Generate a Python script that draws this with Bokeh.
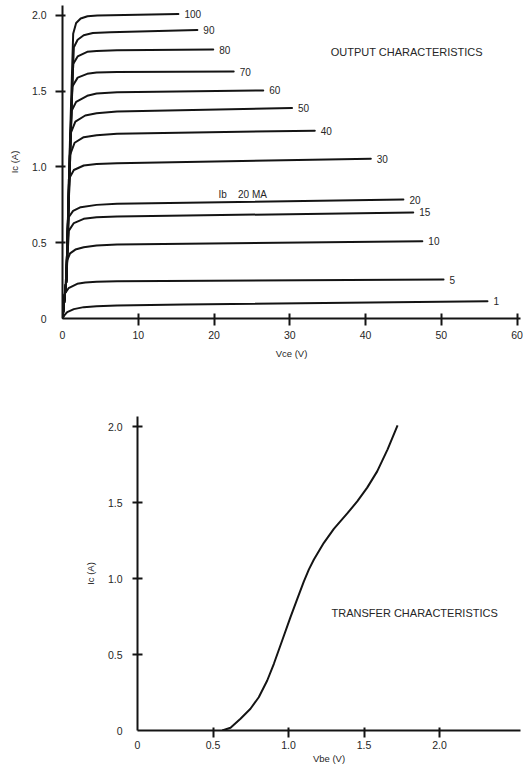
from bokeh.plotting import figure
from bokeh.models import Range1d, FixedTicker, Label, CustomJSTickFormatter
from bokeh.embed import file_html
from bokeh.resources import INLINE
from bokeh.core.properties import value

# ---------------- data: output characteristics ----------------
ib_labels = ["100", "90", "80", "70", "60", "50", "40", "30", "20", "15", "10", "5", "1"]

vce_points = [
    [0, 0.5, 1.0, 1.41, 1.8, 2.4, 3.3, 4.6, 15.3],
    [0, 0.5, 1.0, 1.5, 2.0, 2.8, 4.0, 6.3, 17.8],
    [0, 0.5, 1.0, 1.41, 2.0, 3.26, 4.5, 7.2, 19.9],
    [0, 0.5, 1.0, 1.28, 2.0, 3.26, 4.5, 7.2, 22.6],
    [0, 0.5, 0.95, 1.19, 1.8, 3.26, 4.5, 7.2, 26.5],
    [0, 0.5, 0.85, 1.06, 1.7, 3.0, 4.5, 7.2, 30.3],
    [0, 0.5, 0.8, 0.97, 1.6, 2.8, 4.5, 7.2, 33.3],
    [0, 0.5, 0.75, 0.84, 1.5, 2.8, 4.5, 7.2, 40.7],
    [0, 0.5, 0.7, 0.84, 1.4, 2.4, 4.5, 7.2, 45.0],
    [0, 0.5, 0.7, 0.84, 1.5, 2.8, 4.5, 7.2, 46.3],
    [0, 0.4, 0.62, 1.0, 1.7, 2.8, 4.5, 7.2, 47.5],
    [0, 0.15, 0.3, 0.8, 1.94, 3.0, 4.5, 7.2, 50.3],
    [0, 0.3, 0.62, 1.5, 2.8, 4.5, 7.2, 16.0, 56.1],
]
ic_points = [
    [0, 0.25, 1.20, 1.88, 1.95, 1.98, 1.995, 2.00, 2.01],
    [0, 0.25, 1.15, 1.79, 1.84, 1.87, 1.885, 1.89, 1.905],
    [0, 0.25, 1.10, 1.68, 1.73, 1.76, 1.765, 1.77, 1.775],
    [0, 0.25, 1.05, 1.53, 1.59, 1.615, 1.623, 1.627, 1.63],
    [0, 0.25, 0.95, 1.37, 1.43, 1.47, 1.485, 1.494, 1.505],
    [0, 0.25, 0.85, 1.22, 1.30, 1.34, 1.355, 1.366, 1.39],
    [0, 0.25, 0.80, 1.076, 1.16, 1.197, 1.21, 1.22, 1.24],
    [0, 0.25, 0.70, 0.92, 0.98, 1.01, 1.02, 1.025, 1.054],
    [0, 0.25, 0.50, 0.67, 0.71, 0.735, 0.75, 0.757, 0.785],
    [0, 0.25, 0.45, 0.58, 0.63, 0.658, 0.668, 0.673, 0.70],
    [0, 0.22, 0.383, 0.43, 0.455, 0.47, 0.482, 0.488, 0.51],
    [0, 0.09, 0.163, 0.20, 0.229, 0.238, 0.243, 0.246, 0.257],
    [0, 0.025, 0.042, 0.062, 0.075, 0.081, 0.086, 0.092, 0.114],
]
vce_label_ticks = [0, 10, 20, 30, 40, 50, 60]
vce_mark_ticks = [10, 20, 30, 40, 50, 60]
ic_label_ticks = [0, 0.5, 1.0, 1.5, 2.0]
ic_mark_ticks = [0.5, 1.0, 1.5, 2.0]

# ---------------- data: transfer characteristic ----------------
vbe_points = [0.561, 0.616, 0.682, 0.748, 0.803, 0.859, 0.903, 0.958, 1.013, 1.058, 1.101,
              1.135, 1.168, 1.234, 1.300, 1.389, 1.455, 1.521, 1.587, 1.656, 1.722]
ic_transfer = [0.0, 0.018, 0.077, 0.143, 0.219, 0.329, 0.439, 0.592, 0.746, 0.866, 0.980,
               1.060, 1.125, 1.235, 1.327, 1.428, 1.508, 1.598, 1.705, 1.850, 2.007]
vbe_label_ticks = [0, 0.5, 1.0, 1.5, 2.0]
vbe_mark_ticks = [0.5, 1.0, 1.5, 2.0]

FONT = "Liberation Sans"
INK = "#141414"
TXT = "#262626"

fmt_one_decimal = "return tick == 0 ? '0' : tick.toFixed(1);"


def style_axis(ax, tick_in, tick_out, standoff, label_standoff):
    ax.axis_line_width = 2
    ax.axis_line_color = INK
    ax.major_tick_line_color = None
    ax.major_tick_in = 0
    ax.major_tick_out = tick_out
    ax.minor_tick_line_color = INK
    ax.minor_tick_line_width = 2
    ax.minor_tick_in = tick_in
    ax.minor_tick_out = tick_out
    ax.major_label_text_font = FONT
    ax.major_label_text_font_size = "10.5px"
    ax.major_label_text_color = TXT
    ax.major_label_standoff = standoff
    ax.axis_label_text_font = FONT
    ax.axis_label_text_font_size = "9.5px"
    ax.axis_label_text_font_style = "normal"
    ax.axis_label_text_color = TXT
    ax.axis_label_standoff = label_standoff


# ---------------- top figure ----------------
p1 = figure(width=523, height=363, x_range=Range1d(0, 60.46), y_range=Range1d(0, 2.066),
            output_backend="svg", toolbar_location=None,
            min_border_left=62, min_border_right=3, min_border_top=5, min_border_bottom=45)
p1.outline_line_color = None
p1.grid.visible = False
p1.xaxis.ticker = FixedTicker(ticks=vce_label_ticks, minor_ticks=vce_mark_ticks)
p1.yaxis.ticker = FixedTicker(ticks=ic_label_ticks, minor_ticks=ic_mark_ticks)
p1.yaxis.formatter = CustomJSTickFormatter(code=fmt_one_decimal)
p1.xaxis.axis_label = "Vce (V)"
p1.yaxis.axis_label = "Ic (A)"
style_axis(p1.xaxis[0], 5, 7, 5, 6)
style_axis(p1.yaxis[0], 3, 7, 9, 9)

p1.multi_line(xs=vce_points, ys=ic_points, line_color=INK, line_width=2,
              line_join="round", line_cap="round")
end_v = [v[-1] for v in vce_points]
end_i = [i[-1] for i in ic_points]
p1.text(x=end_v, y=end_i, text=ib_labels, x_offset=6, text_baseline="middle",
        text_align="left", text_font=value(FONT), text_font_size="10px", text_color=TXT)

p1.add_layout(Label(x=35.4, y=1.756, text="OUTPUT CHARACTERISTICS", text_align="left",
                    text_baseline="middle", text_font=FONT, text_font_size="11px",
                    text_color=TXT))
p1.add_layout(Label(x=20.6, y=0.818, text="Ib\u00a0\u00a0\u00a0 20 MA", text_align="left",
                    text_baseline="middle", text_font=FONT, text_font_size="10px",
                    text_color=TXT))

# ---------------- bottom figure ----------------
p2 = figure(width=523, height=405, x_range=Range1d(0, 2.536), y_range=Range1d(0, 2.066),
            output_backend="svg", toolbar_location=None,
            min_border_left=137, min_border_right=3, min_border_top=53, min_border_bottom=38)
p2.outline_line_color = None
p2.grid.visible = False
p2.xaxis.ticker = FixedTicker(ticks=vbe_label_ticks, minor_ticks=vbe_mark_ticks)
p2.yaxis.ticker = FixedTicker(ticks=ic_label_ticks, minor_ticks=ic_mark_ticks)
p2.xaxis.formatter = CustomJSTickFormatter(code=fmt_one_decimal)
p2.yaxis.formatter = CustomJSTickFormatter(code=fmt_one_decimal)
p2.xaxis.axis_label = "Vbe (V)"
p2.yaxis.axis_label = "Ic (A)"
style_axis(p2.xaxis[0], 3, 7, 3, 1)
style_axis(p2.yaxis[0], 5, 5, 10, 9)

p2.line(x=vbe_points, y=ic_transfer, line_color=INK, line_width=2, line_join="round")
p2.add_layout(Label(x=1.285, y=0.776, text="TRANSFER CHARACTERISTICS", text_align="left",
                    text_baseline="middle", text_font=FONT, text_font_size="11px",
                    text_color=TXT))

open("out.html", "w").write(file_html([p1, p2], INLINE))
